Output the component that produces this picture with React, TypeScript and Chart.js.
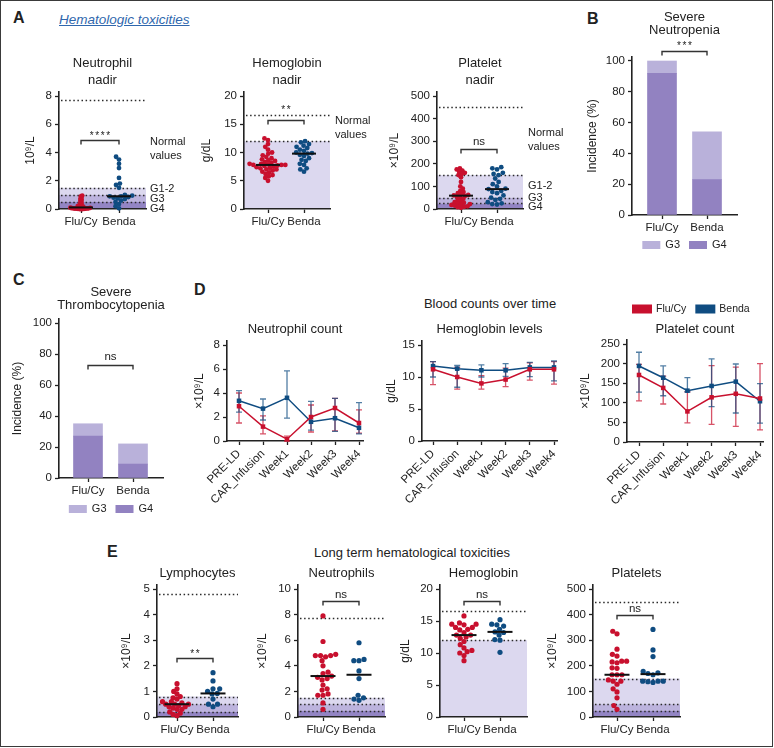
import React, { useEffect, useRef } from 'react';
import { Chart, registerables } from 'chart.js';

Chart.register(...registerables);

const FONT = '"Liberation Sans", Arial, Helvetica, sans-serif';
const INK = '#222222';
const RED = '#c8102e';
const BLUE = '#0f4c81';
const RED_ERR = 'rgba(200, 16, 46, 0.72)';
const BLUE_ERR = 'rgba(15, 76, 129, 0.72)';
const BAND_LIGHT = '#dcd8ef';
const BAND_MID = '#bcb3dd';
const BAND_DARK = '#9385c4';
const BAR_G3 = '#b9b1da';
const BAR_G4 = '#9282c1';

Chart.defaults.font.family = FONT;
Chart.defaults.color = INK;

// ================= DATA =================
const groups = ['Flu/Cy', 'Benda'];
const timepoints = ['PRE-LD', 'CAR_Infusion', 'Week1', 'Week2', 'Week3', 'Week4'];
const gradeLegend = ['G3', 'G4'];
const seriesLegend = ['Flu/Cy', 'Benda'];

// reference lines (normal limits and grade thresholds)
const neutroRefLines = [7.7, 1.5, 1.0, 0.5];
const hbRefLines = [16.6, 12];
const pltRefLines = [450, 150, 50, 25];
const lymRefLines = [4.8, 0.8, 0.5, 0.2];

// A - nadirs
const nadirNeutroFlu = [0.95, 0.9, 0.8, 0.72, 0.65, 0.58, 0.5, 0.42, 0.35, 0.3, 0.25, 0.2, 0.17, 0.14, 0.12, 0.1, 0.09, 0.08, 0.06, 0.05, 0.05, 0.04, 0.03, 0.02, 0.02, 0.01, 0.01, 0, 0, 0];
const nadirNeutroBenda = [3.7, 3.5, 3.2, 2.9, 2.2, 1.8, 1.7, 1.5, 1.0, 0.95, 0.9, 0.9, 0.85, 0.8, 0.75, 0.7, 0.6, 0.5, 0.35, 0.2, 0.05];
const nadirHbFlu = [12.5, 12.2, 11.5, 11.0, 10.5, 10.0, 9.8, 9.5, 9.2, 9.0, 8.8, 8.6, 8.5, 8.3, 8.2, 8.0, 8.0, 7.9, 7.8, 7.8, 7.8, 7.7, 7.6, 7.5, 7.4, 7.3, 7.2, 7.0, 7.0, 6.8, 6.6, 6.5, 6.2, 6.0, 5.8, 5.5, 5.0];
const nadirHbBenda = [12.0, 11.8, 11.5, 11.2, 11.0, 10.8, 10.5, 10.3, 10.0, 9.9, 9.8, 9.6, 9.4, 9.0, 8.7, 8.5, 8.0, 7.8, 7.2, 7.0, 6.6];
const nadirPltFlu = [180, 175, 170, 165, 160, 155, 150, 140, 120, 100, 90, 80, 75, 70, 65, 62, 60, 58, 55, 50, 45, 40, 35, 30, 28, 25, 22, 20, 18, 15, 12, 10, 8, 5];
const nadirPltBenda = [185, 180, 175, 160, 155, 150, 135, 120, 110, 100, 90, 88, 80, 75, 70, 60, 50, 45, 40, 30, 25, 22, 20];

// B / C - incidence (%)
const sevNeutroG4 = [92, 23];
const sevNeutroG3 = [8, 31];
const sevThromboG4 = [27, 9];
const sevThromboG3 = [8, 13];

// D - counts over time (center, lower, upper)
const neuFlu = [2.9, 1.2, 0.15, 2.0, 2.75, 1.5];
const neuFluLow = [1.5, 0.6, 0.0, 0.75, 0.85, 0.65];
const neuFluHigh = [4.0, 2.1, 0.4, 3.0, 3.55, 2.6];
const neuBenda = [3.35, 2.7, 3.6, 1.6, 1.9, 1.1];
const neuBendaLow = [2.4, 1.75, 1.9, 0.9, 0.8, 0.6];
const neuBendaHigh = [4.2, 3.5, 5.85, 3.3, 3.55, 3.2];

const hbFlu = [11.2, 10.0, 9.0, 9.6, 11.2, 11.2];
const hbFluLow = [8.8, 8.1, 8.1, 8.5, 9.5, 8.9];
const hbFluHigh = [12.4, 11.5, 10.2, 11.4, 12.2, 12.4];
const hbBenda = [11.7, 11.3, 11.05, 11.05, 11.5, 11.5];
const hbBendaLow = [10.0, 8.4, 10.0, 10.1, 10.05, 9.4];
const hbBendaHigh = [12.4, 11.8, 11.9, 12.1, 12.3, 12.5];

const pltFlu = [171, 138, 78, 114, 123, 111];
const pltFluLow = [105, 97, 49, 45, 40, 31];
const pltFluHigh = [198, 168, 128, 195, 191, 200];
const pltBenda = [194, 164, 131, 143, 154, 104];
const pltBendaLow = [127, 118, 128, 90, 74, 48];
const pltBendaHigh = [229, 194, 164, 212, 199, 149];

// E - long term
const ltLymFlu = [1.3, 1.1, 1.0, 0.9, 0.8, 0.75, 0.7, 0.6, 0.6, 0.55, 0.5, 0.5, 0.5, 0.45, 0.4, 0.4, 0.35, 0.3, 0.3, 0.2, 0.15, 0.1, 0.05];
const ltLymBenda = [1.73, 1.41, 1.1, 1.1, 1.0, 0.92, 0.9, 0.7, 0.5, 0.5, 0.4];
const ltNeuFlu = [7.9, 5.9, 4.9, 4.8, 4.8, 4.8, 4.7, 4.4, 4.0, 3.5, 3.4, 3.2, 3.1, 3.0, 2.9, 2.5, 2.2, 2.1, 1.8, 1.7, 1.7, 1.1, 0.6];
const ltNeuBenda = [5.8, 4.5, 4.4, 4.4, 3.6, 3.0, 1.7, 1.5, 1.4, 1.3];
const ltHbFlu = [15.8, 14.7, 14.5, 14.5, 14.4, 14.0, 14.0, 13.7, 13.6, 13.2, 12.8, 12.8, 12.5, 12.3, 11.8, 11.3, 10.8, 10.4, 10.2, 10.0, 9.6, 8.8];
const ltHbBenda = [15.2, 14.5, 14.4, 14.2, 13.7, 13.3, 13.2, 12.8, 12.1, 12.0, 10.1];
const ltPltFlu = [335, 325, 265, 245, 238, 218, 218, 215, 212, 192, 190, 165, 165, 165, 145, 140, 140, 128, 110, 98, 75, 45, 30];
const ltPltBenda = [342, 262, 236, 178, 172, 170, 165, 140, 140, 140, 138, 135];

// ================= LAYOUT HELPERS =================
const PAGE_W = 774;
const PAGE_H = 748;
const AXIS_EXT = 4;
const MARGIN = { l: 60, t: 60, r: 70, b: 65 };

type Geom = { axisX: number; right: number; topTick: number; bottom: number; c0: number; cN: number; yTitleDx: number };
type Frame = { x: number; y: number; w: number; h: number; wy: number; hx: number; padding: any };

function frameFor(g: Geom): Frame {
  const x = Math.max(0, g.axisX - MARGIN.l);
  const y = Math.max(0, g.topTick - MARGIN.t);
  const x2 = Math.min(PAGE_W, g.right + MARGIN.r);
  const y2 = Math.min(PAGE_H, g.bottom + MARGIN.b);
  const wy = g.yTitleDx + 11.2;
  return {
    x, y, w: x2 - x, h: y2 - y, wy, hx: y2 - g.bottom,
    padding: { left: g.axisX - x - wy, top: g.topTick - AXIS_EXT - y, right: x2 - g.right, bottom: 0 },
  };
}

const gridOpts = { display: true, drawOnChartArea: false, drawTicks: true, tickLength: 4, tickWidth: 1.3, color: INK, offset: false };
const borderOpts = { display: true, color: INK, width: 1.6 };

function xAxis(g: Geom, labels: string[], hx: number, rotation = 0, stacked = false) {
  const n = labels.length;
  const s = (g.cN - g.c0) / (n - 1);
  return {
    type: 'linear', bounds: 'data', offset: false, stacked,
    min: -(g.c0 - g.axisX) / s,
    max: n - 1 + (g.right - g.cN) / s,
    afterBuildTicks: (sc: any) => { sc.ticks = labels.map((_, i) => ({ value: i })); },
    afterFit: (sc: any) => { sc.height = hx; },
    ticks: {
      autoSkip: false, minRotation: rotation, maxRotation: rotation, padding: 2, color: INK,
      font: { size: 11.5 }, callback: (v: any) => labels[Math.round(Number(v))] ?? '',
    },
    grid: gridOpts, border: borderOpts,
  };
}

function yAxis(g: Geom, tickMax: number, step: number, title: string, wy: number, stacked = false) {
  const vals: number[] = [];
  for (let v = 0; v <= tickMax + 1e-9; v += step) vals.push(+v.toFixed(6));
  return {
    type: 'linear', bounds: 'data', stacked, min: 0,
    max: tickMax + (AXIS_EXT * tickMax) / (g.bottom - g.topTick),
    afterBuildTicks: (sc: any) => { sc.ticks = vals.map((v) => ({ value: v })); },
    afterFit: (sc: any) => { sc.width = wy; },
    ticks: { padding: 3, color: INK, font: { size: 11.5 } },
    grid: gridOpts, border: borderOpts,
    title: { display: true, text: title, color: INK, font: { size: 12 }, padding: { top: 4, bottom: 4 } },
  };
}

type Deco = {
  ox: number; oy: number;
  titles?: { text: string; y: number; size?: number }[];
  bands?: { from: number; to: number; color: string }[];
  dotted?: number[];
  notes?: { text: string; x: number; y: number }[];
  brackets?: { yv: number; label: string; dy: number }[];
  medianHalf?: number;
  errorBars?: boolean;
  legend?: { labels: string[]; colors: string[]; y: number; x?: number; sw: number; sh: number; size: number; gap: number; itemGap: number };
};

function makeDeco(d: Deco) {
  return {
    id: 'deco',
    beforeDraw(chart: any) {
      const { ctx, chartArea: a } = chart;
      const y = chart.scales.y;
      ctx.save();
      for (const b of d.bands || []) {
        const top = y.getPixelForValue(b.to);
        const bot = y.getPixelForValue(b.from);
        ctx.fillStyle = b.color;
        ctx.fillRect(a.left, top, a.right - a.left, bot - top);
      }
      ctx.restore();
    },
    beforeDatasetsDraw(chart: any) {
      const { ctx, chartArea: a } = chart;
      const y = chart.scales.y;
      ctx.save();
      ctx.strokeStyle = '#2a2a2a';
      ctx.lineWidth = 1.5;
      ctx.setLineDash([1.5, 2.6]);
      for (const v of d.dotted || []) {
        const py = Math.round(y.getPixelForValue(v)) + 0.5;
        ctx.beginPath();
        ctx.moveTo(a.left + 2, py);
        ctx.lineTo(a.right, py);
        ctx.stroke();
      }
      ctx.setLineDash([]);
      if (d.errorBars) {
        chart.data.datasets.forEach((ds: any, di: number) => {
          const meta = chart.getDatasetMeta(di);
          ctx.strokeStyle = ds.errColor;
          ctx.lineWidth = 1.3;
          ds.errLow.forEach((lo: number, i: number) => {
            const px = meta.data[i].x;
            const pl = y.getPixelForValue(lo);
            const ph = y.getPixelForValue(ds.errHigh[i]);
            ctx.beginPath();
            ctx.moveTo(px, pl); ctx.lineTo(px, ph);
            ctx.moveTo(px - 3, pl); ctx.lineTo(px + 3, pl);
            ctx.moveTo(px - 3, ph); ctx.lineTo(px + 3, ph);
            ctx.stroke();
          });
        });
      }
      ctx.restore();
    },
    afterDatasetsDraw(chart: any) {
      if (!d.medianHalf) return;
      const { ctx } = chart;
      const x = chart.scales.x;
      const y = chart.scales.y;
      ctx.save();
      ctx.strokeStyle = '#111';
      ctx.lineWidth = 2;
      chart.data.datasets.forEach((ds: any, gi: number) => {
        const vals = ds.data.map((p: any) => p.y).sort((p: number, q: number) => p - q);
        const n = vals.length;
        const med = n % 2 ? vals[(n - 1) / 2] : (vals[n / 2 - 1] + vals[n / 2]) / 2;
        const px = x.getPixelForValue(gi);
        const py = y.getPixelForValue(med);
        ctx.beginPath();
        ctx.moveTo(px - d.medianHalf!, py);
        ctx.lineTo(px + d.medianHalf!, py);
        ctx.stroke();
      });
      ctx.restore();
    },
    afterDraw(chart: any) {
      const { ctx, chartArea: a } = chart;
      const x = chart.scales.x;
      const y = chart.scales.y;
      ctx.save();
      ctx.fillStyle = INK;
      ctx.textBaseline = 'middle';
      for (const t of d.titles || []) {
        ctx.font = `${t.size || 13}px ${FONT}`;
        ctx.textAlign = 'center';
        ctx.fillText(t.text, (a.left + a.right) / 2, t.y - d.oy);
      }
      for (const n of d.notes || []) {
        ctx.font = `11px ${FONT}`;
        ctx.textAlign = 'left';
        ctx.fillText(n.text, n.x - d.ox, n.y - d.oy);
      }
      for (const b of d.brackets || []) {
        const x0 = x.getPixelForValue(0);
        const x1 = x.getPixelForValue(1);
        const py = Math.round(y.getPixelForValue(b.yv)) + 0.5;
        ctx.strokeStyle = '#333';
        ctx.lineWidth = 1.4;
        ctx.beginPath();
        ctx.moveTo(x0, py + 4); ctx.lineTo(x0, py); ctx.lineTo(x1, py); ctx.lineTo(x1, py + 4);
        ctx.stroke();
        const mid = (x0 + x1) / 2;
        ctx.textAlign = 'center';
        if (/^\*+$/.test(b.label)) {
          ctx.font = `10px ${FONT}`;
          const sp = 5.5;
          const n = b.label.length;
          for (let i = 0; i < n; i++) ctx.fillText('*', mid - ((n - 1) * sp) / 2 + i * sp, py + b.dy);
        } else {
          ctx.font = `11.5px ${FONT}`;
          ctx.fillText(b.label, mid, py + b.dy);
        }
      }
      const lg = d.legend;
      if (lg) {
        ctx.font = `${lg.size}px ${FONT}`;
        ctx.textAlign = 'left';
        const widths = lg.labels.map((l) => ctx.measureText(l).width);
        const total = widths.reduce((s, w) => s + lg.sw + lg.gap + w, 0) + lg.itemGap * (lg.labels.length - 1);
        let cx = lg.x !== undefined ? lg.x - d.ox : (a.left + a.right) / 2 - total / 2;
        const cy = lg.y - d.oy;
        lg.labels.forEach((l, i) => {
          ctx.fillStyle = lg.colors[i];
          ctx.fillRect(cx, cy - lg.sh / 2, lg.sw, lg.sh);
          ctx.fillStyle = INK;
          ctx.fillText(l, cx + lg.sw + lg.gap, cy);
          cx += lg.sw + lg.gap + widths[i] + lg.itemGap;
        });
      }
      ctx.restore();
    },
  };
}

// beeswarm layout: spreads dots sideways (pixel space) so they do not pile up
function applySwarm(chart: any, r: number, ks: number[]) {
  const xs = chart.scales.x;
  const ys = chart.scales.y;
  const ppu = xs.getPixelForValue(1) - xs.getPixelForValue(0);
  chart.data.datasets.forEach((ds: any, gi: number) => {
    const dmin = 2 * r * ks[gi];
    const vals: number[] = ds.data.map((p: any) => p.y);
    const order = vals.map((_, i) => i).sort((p, q) => vals[p] - vals[q]);
    const placed: { x: number; y: number }[] = [];
    const offs: number[] = vals.map(() => 0);
    for (const i of order) {
      const py = ys.getPixelForValue(vals[i]);
      const forb: [number, number][] = [];
      for (const q of placed) {
        const dy = Math.abs(q.y - py);
        if (dy < dmin) {
          const w = Math.sqrt(dmin * dmin - dy * dy);
          forb.push([q.x - w, q.x + w]);
        }
      }
      const cands = [0];
      forb.forEach(([p, q]) => cands.push(p, q));
      cands.sort((p, q) => Math.abs(p) - Math.abs(q));
      let best = 0;
      for (const c of cands) {
        if (forb.every(([p, q]) => c <= p + 1e-6 || c >= q - 1e-6)) { best = c; break; }
      }
      placed.push({ x: best, y: py });
      offs[i] = best;
    }
    ds.data = vals.map((v, i) => ({ x: gi + offs[i] / ppu, y: v }));
  });
  chart.update('none');
}

const baseOptions = (f: Frame) => ({
  responsive: false,
  animation: false,
  events: [],
  layout: { padding: f.padding, autoPadding: false },
  plugins: { legend: { display: false }, tooltip: { enabled: false } },
});

type PanelDef = { g: Geom; make: (f: Frame) => any; after?: (c: any) => void };

type DotSpec = {
  g: Geom; tickMax: number; step: number; yTitle: string; flu: number[]; benda: number[];
  r: number; k: number[]; medianHalf: number; bands: { from: number; to: number; color: string }[];
  dotted: number[]; titles: { text: string; y: number }[]; notes?: { text: string; x: number; y: number }[];
  bracket: { yv: number; label: string; dy: number };
};

function dotPanel(p: DotSpec): PanelDef {
  return {
    g: p.g,
    make: (f) => ({
      type: 'scatter',
      data: {
        datasets: [p.flu, p.benda].map((vals, gi) => ({
          label: groups[gi],
          data: vals.map((v) => ({ x: gi, y: v })),
          backgroundColor: gi ? BLUE : RED,
          borderWidth: 0,
          pointRadius: p.r,
          pointHoverRadius: p.r,
          clip: false,
        })),
      },
      options: {
        ...baseOptions(f),
        scales: { x: xAxis(p.g, groups, f.hx), y: yAxis(p.g, p.tickMax, p.step, p.yTitle, f.wy) },
      },
      plugins: [makeDeco({ ox: f.x, oy: f.y, titles: p.titles, bands: p.bands, dotted: p.dotted, notes: p.notes, brackets: [p.bracket], medianHalf: p.medianHalf })],
    }),
    after: (c) => applySwarm(c, p.r, p.k),
  };
}

type BarSpec = { g: Geom; g4: number[]; g3: number[]; titles: { text: string; y: number }[]; bracket: { yv: number; label: string; dy: number }; legendY: number };

function barPanel(p: BarSpec): PanelDef {
  return {
    g: p.g,
    make: (f) => ({
      type: 'bar',
      data: {
        datasets: [
          { label: gradeLegend[1], data: p.g4.map((v, i) => ({ x: i, y: v })), backgroundColor: BAR_G4, barThickness: 29, stack: 's', borderWidth: 0 },
          { label: gradeLegend[0], data: p.g3.map((v, i) => ({ x: i, y: v })), backgroundColor: BAR_G3, barThickness: 29, stack: 's', borderWidth: 0 },
        ],
      },
      options: {
        ...baseOptions(f),
        scales: { x: xAxis(p.g, groups, f.hx, 0, true), y: yAxis(p.g, 100, 20, 'Incidence (%)', f.wy, true) },
      },
      plugins: [makeDeco({
        ox: f.x, oy: f.y, titles: p.titles, brackets: [p.bracket],
        legend: { labels: gradeLegend, colors: [BAR_G3, BAR_G4], y: p.legendY, sw: 18, sh: 8, size: 11, gap: 5, itemGap: 9 },
      })],
    }),
  };
}

type LineSpec = {
  g: Geom; tickMax: number; step: number; yTitle: string; title: string;
  flu: number[]; fluLow: number[]; fluHigh: number[]; benda: number[]; bendaLow: number[]; bendaHigh: number[];
  legend?: boolean;
};

function linePanel(p: LineSpec): PanelDef {
  return {
    g: p.g,
    make: (f) => ({
      type: 'line',
      data: {
        datasets: [
          { label: seriesLegend[0], data: p.flu.map((v, i) => ({ x: i, y: v })), borderColor: RED, backgroundColor: RED, borderWidth: 1.5, pointStyle: 'rect', pointRadius: 3.2, pointBorderWidth: 0, tension: 0, clip: false, errLow: p.fluLow, errHigh: p.fluHigh, errColor: RED_ERR },
          { label: seriesLegend[1], data: p.benda.map((v, i) => ({ x: i, y: v })), borderColor: BLUE, backgroundColor: BLUE, borderWidth: 1.5, pointStyle: 'rect', pointRadius: 3.2, pointBorderWidth: 0, tension: 0, clip: false, errLow: p.bendaLow, errHigh: p.bendaHigh, errColor: BLUE_ERR },
        ],
      },
      options: {
        ...baseOptions(f),
        scales: { x: xAxis(p.g, timepoints, f.hx, 45), y: yAxis(p.g, p.tickMax, p.step, p.yTitle, f.wy) },
      },
      plugins: [makeDeco({
        ox: f.x, oy: f.y, titles: [{ text: p.title, y: 329 }], errorBars: true,
        legend: p.legend ? { labels: seriesLegend, colors: [RED, BLUE], x: 632, y: 309, sw: 20, sh: 9, size: 10.5, gap: 4, itemGap: 9 } : undefined,
      })],
    }),
  };
}

const neutroBands = [
  { from: 1.0, to: 1.5, color: BAND_LIGHT },
  { from: 0.5, to: 1.0, color: BAND_MID },
  { from: 0, to: 0.5, color: BAND_DARK },
];
const hbBands = [{ from: 0, to: 12, color: BAND_LIGHT }];
const pltBands = [
  { from: 50, to: 150, color: BAND_LIGHT },
  { from: 25, to: 50, color: BAND_MID },
  { from: 0, to: 25, color: BAND_DARK },
];
const lymBands = [
  { from: 0.5, to: 0.8, color: BAND_LIGHT },
  { from: 0.2, to: 0.5, color: BAND_MID },
  { from: 0, to: 0.2, color: BAND_DARK },
];

const panels: PanelDef[] = [
  dotPanel({
    g: { axisX: 59, right: 146, topTick: 96, bottom: 209, c0: 81, cN: 119, yTitleDx: 28.5 },
    tickMax: 8, step: 2, yTitle: '10⁹/L', flu: nadirNeutroFlu, benda: nadirNeutroBenda,
    r: 2.4, k: [0.32, 0.85], medianHalf: 12, bands: neutroBands, dotted: neutroRefLines,
    titles: [{ text: 'Neutrophil', y: 63 }, { text: 'nadir', y: 80 }],
    notes: [
      { text: 'Normal', x: 150, y: 142 }, { text: 'values', x: 150, y: 156 },
      { text: 'G1-2', x: 150, y: 189 }, { text: 'G3', x: 150, y: 198.5 }, { text: 'G4', x: 150, y: 208.5 },
    ],
    bracket: { yv: 4.9, label: '****', dy: -4 },
  }),
  dotPanel({
    g: { axisX: 244, right: 330, topTick: 96, bottom: 209, c0: 268, cN: 304, yTitleDx: 37 },
    tickMax: 20, step: 5, yTitle: 'g/dL', flu: nadirHbFlu, benda: nadirHbBenda,
    r: 2.4, k: [0.82, 0.9], medianHalf: 12, bands: hbBands, dotted: hbRefLines,
    titles: [{ text: 'Hemoglobin', y: 63 }, { text: 'nadir', y: 80 }],
    notes: [{ text: 'Normal', x: 335, y: 121 }, { text: 'values', x: 335, y: 135 }],
    bracket: { yv: 15.75, label: '**', dy: -10 },
  }),
  dotPanel({
    g: { axisX: 437, right: 523, topTick: 96, bottom: 209, c0: 461, cN: 497, yTitleDx: 42 },
    tickMax: 500, step: 100, yTitle: '×10⁹/L', flu: nadirPltFlu, benda: nadirPltBenda,
    r: 2.4, k: [0.7, 1], medianHalf: 12, bands: pltBands, dotted: pltRefLines,
    titles: [{ text: 'Platelet', y: 63 }, { text: 'nadir', y: 80 }],
    notes: [
      { text: 'Normal', x: 528, y: 133 }, { text: 'values', x: 528, y: 147 },
      { text: 'G1-2', x: 528, y: 186 }, { text: 'G3', x: 528, y: 197.5 }, { text: 'G4', x: 528, y: 207 },
    ],
    bracket: { yv: 264, label: 'ns', dy: -8 },
  }),
  barPanel({
    g: { axisX: 632, right: 737, topTick: 61, bottom: 215, c0: 662, cN: 707, yTitleDx: 39 },
    g4: sevNeutroG4, g3: sevNeutroG3,
    titles: [{ text: 'Severe', y: 17 }, { text: 'Neutropenia', y: 30 }],
    bracket: { yv: 106.7, label: '***', dy: -5 }, legendY: 245,
  }),
  barPanel({
    g: { axisX: 59, right: 163, topTick: 323, bottom: 478, c0: 88, cN: 133, yTitleDx: 41 },
    g4: sevThromboG4, g3: sevThromboG3,
    titles: [{ text: 'Severe', y: 292 }, { text: 'Thrombocytopenia', y: 305 }],
    bracket: { yv: 72.9, label: 'ns', dy: -9 }, legendY: 509,
  }),
  linePanel({
    g: { axisX: 227, right: 363, topTick: 345, bottom: 441, c0: 239, cN: 359, yTitleDx: 27 },
    tickMax: 8, step: 2, yTitle: '×10⁹/L', title: 'Neutrophil count',
    flu: neuFlu, fluLow: neuFluLow, fluHigh: neuFluHigh, benda: neuBenda, bendaLow: neuBendaLow, bendaHigh: neuBendaHigh,
  }),
  linePanel({
    g: { axisX: 422, right: 557, topTick: 345, bottom: 441, c0: 433, cN: 554, yTitleDx: 30 },
    tickMax: 15, step: 5, yTitle: 'g/dL', title: 'Hemoglobin levels',
    flu: hbFlu, fluLow: hbFluLow, fluHigh: hbFluHigh, benda: hbBenda, bendaLow: hbBendaLow, bendaHigh: hbBendaHigh,
  }),
  linePanel({
    g: { axisX: 627, right: 763, topTick: 344, bottom: 442, c0: 639, cN: 760, yTitleDx: 41 },
    tickMax: 250, step: 50, yTitle: '×10⁹/L', title: 'Platelet count',
    flu: pltFlu, fluLow: pltFluLow, fluHigh: pltFluHigh, benda: pltBenda, bendaLow: pltBendaLow, bendaHigh: pltBendaHigh,
    legend: true,
  }),
  dotPanel({
    g: { axisX: 157, right: 238, topTick: 589, bottom: 717, c0: 177, cN: 213, yTitleDx: 30 },
    tickMax: 5, step: 1, yTitle: '×10⁹/L', flu: ltLymFlu, benda: ltLymBenda,
    r: 2.6, k: [0.8, 1], medianHalf: 12.5, bands: lymBands, dotted: lymRefLines,
    titles: [{ text: 'Lymphocytes', y: 573 }],
    bracket: { yv: 2.32, label: '**', dy: -4 },
  }),
  dotPanel({
    g: { axisX: 298, right: 385, topTick: 589, bottom: 717, c0: 323, cN: 359, yTitleDx: 35 },
    tickMax: 10, step: 2, yTitle: '×10⁹/L', flu: ltNeuFlu, benda: ltNeuBenda,
    r: 2.6, k: [1, 1], medianHalf: 12.5, bands: neutroBands, dotted: neutroRefLines,
    titles: [{ text: 'Neutrophils', y: 573 }],
    bracket: { yv: 9.09, label: 'ns', dy: -6.7 },
  }),
  dotPanel({
    g: { axisX: 440, right: 527, topTick: 589, bottom: 717, c0: 464, cN: 500, yTitleDx: 34 },
    tickMax: 20, step: 5, yTitle: 'g/dL', flu: ltHbFlu, benda: ltHbBenda,
    r: 2.6, k: [0.95, 1], medianHalf: 12.5, bands: hbBands, dotted: hbRefLines,
    titles: [{ text: 'Hemoglobin', y: 573 }],
    bracket: { yv: 18.2, label: 'ns', dy: -6.7 },
  }),
  dotPanel({
    g: { axisX: 593, right: 680, topTick: 589, bottom: 717, c0: 617, cN: 653, yTitleDx: 40 },
    tickMax: 500, step: 100, yTitle: '×10⁹/L', flu: ltPltFlu, benda: ltPltBenda,
    r: 2.6, k: [0.95, 1], medianHalf: 12.5, bands: pltBands, dotted: pltRefLines,
    titles: [{ text: 'Platelets', y: 573 }],
    bracket: { yv: 398, label: 'ns', dy: -7 },
  }),
];

function ChartPanel({ def }: { def: PanelDef }) {
  const ref = useRef<HTMLCanvasElement | null>(null);
  const f = frameFor(def.g);
  useEffect(() => {
    if (!ref.current) return;
    const chart = new Chart(ref.current, def.make(f));
    if (def.after) def.after(chart);
    return () => chart.destroy();
  }, []);
  return (
    <canvas
      ref={ref}
      width={f.w}
      height={f.h}
      style={{ position: 'absolute', left: f.x, top: f.y, width: f.w, height: f.h }}
    />
  );
}

type Label = { text: string; x: number; y: number; size: number; bold?: boolean; center?: boolean; link?: boolean };
const pageLabels: Label[] = [
  { text: 'A', x: 13, y: 18, size: 16, bold: true },
  { text: 'Hematologic toxicities', x: 59, y: 20, size: 13.5, link: true },
  { text: 'B', x: 587, y: 19, size: 16, bold: true },
  { text: 'C', x: 13, y: 280, size: 16, bold: true },
  { text: 'D', x: 194, y: 290, size: 16, bold: true },
  { text: 'E', x: 107, y: 552, size: 16, bold: true },
  { text: 'Blood counts over time', x: 490, y: 304, size: 13, center: true },
  { text: 'Long term hematological toxicities', x: 412, y: 553, size: 13, center: true },
];

export default function App() {
  useEffect(() => {
    document.body.style.margin = '0';
  }, []);
  return (
    <div style={{ position: 'absolute', left: 0, top: 0, width: PAGE_W, height: PAGE_H, background: '#fff', overflow: 'hidden', fontFamily: FONT }}>
      {pageLabels.map((l, i) => (
        <div
          key={i}
          style={{
            position: 'absolute',
            left: l.x,
            top: l.y - 9,
            lineHeight: '18px',
            fontSize: l.size,
            fontWeight: l.bold ? 700 : 400,
            fontStyle: l.link ? 'italic' : 'normal',
            textDecoration: l.link ? 'underline' : 'none',
            color: l.link ? '#2f67ad' : INK,
            whiteSpace: 'nowrap',
            transform: l.center ? 'translateX(-50%)' : undefined,
          }}
        >
          {l.text}
        </div>
      ))}
      {panels.map((p, i) => (
        <ChartPanel key={i} def={p} />
      ))}
      <div style={{ position: 'absolute', left: 0, top: 0, width: 773, height: 747, border: '1.5px solid #3a3a3a', boxSizing: 'border-box', pointerEvents: 'none' }} />
    </div>
  );
}
